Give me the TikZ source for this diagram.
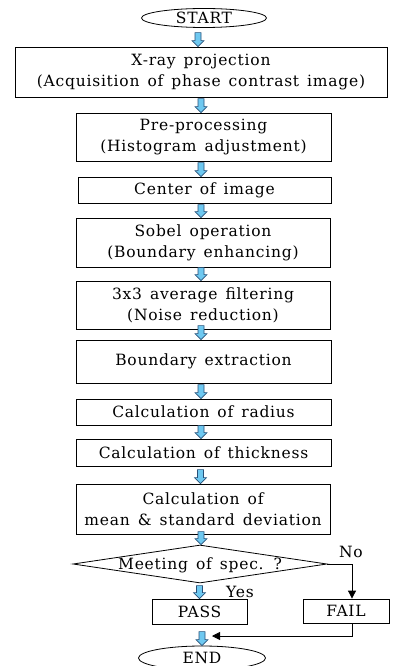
\documentclass[tikz,border=0pt]{standalone}
\usepackage{fontspec}
\setmainfont{DejaVu Serif}[LetterSpace=5, WordSpace=1.4]
\usetikzlibrary{shapes.geometric, arrows.meta, calc}
\definecolor{arrfill}{RGB}{110,200,240}
\definecolor{arrline}{RGB}{40,80,120}
\newcommand\blockarrow[2]{% #1 = target anchor (tip), #2 = length
  \draw[barrowstyle] (#1) -- ++(6,-6) -- ++(-3,0) -- ++(0,{-(#2-6)}) -- ++(-6,0) -- ++(0,{#2-6}) -- ++(-3,0) -- cycle;}
\begin{document}
\begin{tikzpicture}[x=1pt,y=-1pt,
  txt/.style={font=\fontsize{15.5}{21}\selectfont},
  box/.style={txt, draw, line width=0.8pt, inner sep=0pt, align=center},
  term/.style={txt, ellipse, draw, line width=0.8pt, inner sep=0pt},
  dec/.style={txt, diamond, draw, line width=0.8pt, inner sep=0pt, aspect=6.66},
  barrowstyle/.style={fill=arrfill, draw=arrline, line width=0.6pt, line join=miter},
  conn/.style={draw, line width=0.8pt, -{Triangle[length=8pt,width=8pt]}}]
\useasboundingbox (0,0) rectangle (392,666);
\fill[white] (0,0) rectangle (392,666);

\node[term, minimum width=125, minimum height=19] (start) at (204,18) {START};
\node[box, minimum width=372, minimum height=50] (b1) at (201,72) {X-ray projection\\(Acquisition of phase contrast image)};
\node[box, minimum width=255, minimum height=48] (b2) at (203.5,137) {Pre-processing\\(Histogram adjustment)};
\node[box, minimum width=253, minimum height=26] (b3) at (204.5,190) {Center of image};
\node[box, minimum width=254, minimum height=49] (b4) at (203,242.5) {Sobel operation\\(Boundary enhancing)};
\node[box, minimum width=254, minimum height=48] (b5) at (203,305) {3x3 average filtering\\(Noise reduction)};
\node[box, minimum width=255, minimum height=43] (b6) at (203.5,361.5) {Boundary extraction};
\node[box, minimum width=255, minimum height=26] (b7) at (203.5,412) {Calculation of radius};
\node[box, minimum width=255, minimum height=27] (b8) at (203.5,452.5) {Calculation of thickness};
\node[box, minimum width=254, minimum height=50] (b9) at (203,509) {Calculation of\\mean \& standard deviation};
\node[dec, minimum width=254, minimum height=38] (dec) at (200,564) {\raisebox{-5.5pt}[0pt][0pt]{Meeting of spec. ?}};
\node[box, minimum width=95, minimum height=25] (pass) at (199.5,611.5) {PASS};
\node[box, minimum width=86, minimum height=24] (fail) at (346,611) {FAIL};
\node[term, minimum width=127, minimum height=24] (end) at (202,658) {END};
\node[txt] (no) at (351,552) {No};
\node[txt] (yes) at (240,592) {Yes};

\coordinate (failx) at (352,0);
\coordinate (rtip) at (212,636);

\blockarrow{[xshift=-3pt]b1.north}{14}
\blockarrow{[xshift=-2.5pt]b2.north}{14}
\blockarrow{[xshift=-3.5pt]b3.north}{14}
\blockarrow{[xshift=-2pt]b4.north}{13}
\blockarrow{[xshift=-2pt]b5.north}{13}
\blockarrow{[xshift=-2.5pt]b6.north}{14}
\blockarrow{[xshift=-2.5pt]b7.north}{14}
\blockarrow{[xshift=-2.5pt]b8.north}{13}
\blockarrow{[xshift=-2.5pt]b9.north}{14}
\blockarrow{[xshift=1pt]dec.north}{13}
\blockarrow{pass.north}{13}
\blockarrow{end.north}{14}

\draw[conn] (dec.east) -- (dec.east -| failx) -- (failx |- fail.north);
\draw[conn] (failx |- fail.south) |- (rtip);
\end{tikzpicture}
\end{document}
